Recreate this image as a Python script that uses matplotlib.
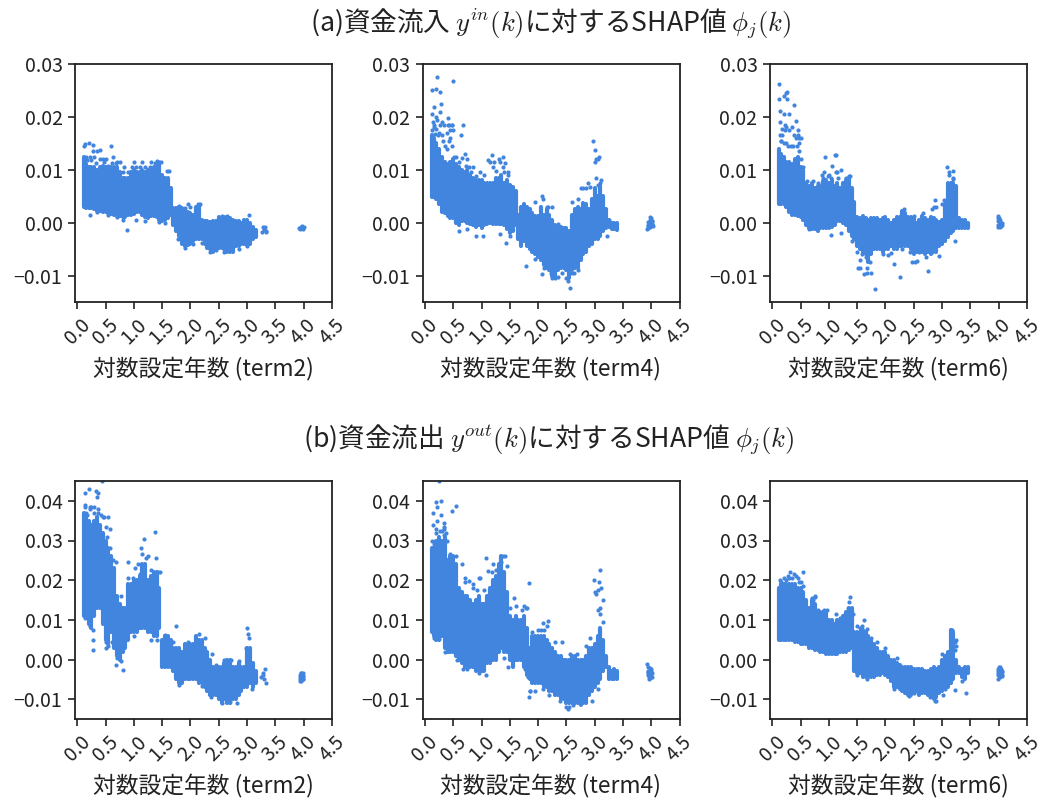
import matplotlib
matplotlib.use('Agg')
import matplotlib.pyplot as plt

plt.rcParams['font.family'] = ['Noto Sans CJK JP', 'DejaVu Sans']
plt.rcParams['mathtext.fontset'] = 'cm'

color = '#4285de'

#x positions where the dense part of each cloud was read off
#the dense part is drawn as lo-hi bands, single dots only for what stands out
band_x = [0.12, 0.15, 0.2, 0.25, 0.3, 0.35, 0.4, 0.45, 0.5, 0.55, 0.6, 0.65, 0.7, 0.75, 0.8, 0.85, 0.9, 0.95,
          1.0, 1.05, 1.1, 1.15, 1.2, 1.25, 1.3, 1.35, 1.4, 1.45, 1.5, 1.55, 1.6, 1.65, 1.7, 1.75, 1.8, 1.85, 1.9, 1.95,
          2.0, 2.05, 2.1, 2.15, 2.2, 2.25, 2.3, 2.35, 2.4, 2.45, 2.5, 2.55, 2.6, 2.65, 2.7, 2.75, 2.8, 2.85, 2.9, 2.95,
          3.0, 3.05, 3.1, 3.15, 3.2, 3.25, 3.3, 3.35, 3.4, 3.45]

#(a) inflow, term2
a1_lo = [.003, .0028, .0028, .0027, .0025, .0023, .0022, .002, .002, .0018, .0016, .0014, .0013, .0012, .001, .0011, .0015, .0015,
         .0017, .002, .002, .0015, .001, .0008, .0012, .0012, .001, .0005, .0003, .0005, .0008, .0015, -.0005, -.0015, -.0025, -.004, -.0045, -.0042,
         -.004, -.0035, -.003, -.003, -.003, -.004, -.0048, -.005, -.0055, -.005, -.0048, -.0048, -.005, -.0055, -.0055, -.0055, -.0045, -.0045, -.004, -.004,
         -.0042, -.004, -.003, -.0028]
a1_hi = [.0125, .011, .0105, .0105, .0105, .01, .0105, .0108, .0105, .01, .0105, .0105, .0105, .0095, .0085, .0085, .0085, .0095,
         .01, .0095, .0095, .01, .0095, .01, .01, .0105, .0108, .011, .009, .0085, .0085, .0065, .0028, .0028, .003, .0028, .0025, .002,
         .0018, .0015, .003, .003, .0005, .0003, .0003, .0002, .0003, .0003, .001, .0005, .001, .001, .0008, .0005, .0003, .0003, 0.0, .0005,
         .0005, 0.0, -.0008, -.0013]
a1_px = [.12, .14, .2, .27, .28, .35, .4, .6, .15, .22, .3, .45, .5, .63, .7, .75, .82, .88, 1.0, 1.15, 1.3, 1.4, 1.48, .22, 1.62,
         2.13, 2.17, 1.95, 3.03, 3.27, 3.29, 3.31, 3.33, 3.33, 3.28, 3.92, 3.94, 3.96, 3.98, 4.0, 3.97]
a1_py = [.0145, .0148, .015, .0147, .0135, .0135, .0138, .0145, .0125, .0125, .0125, .012, .012, .0125, .0115, .0115, .0105, -.0013, .0115, .0115, .0115, .0117, .0115, .0015, .0098,
         .0035, .0035, .0035, .0015, -.0018, -.0012, -.0009, -.0015, -.0018, -.0008, -.0011, -.0012, -.0008, -.0012, -.0009, -.0007]
a1_edge = [(.17, .0118), (.25, .0118), (.33, .0112), (.4, .012), (.48, .0115), (.55, .0108), (.62, .0112), (.68, .0112), (.8, .0095),
           (.9, .0095), (.97, .0105), (1.03, .0105), (1.1, .0105), (1.2, .0105), (1.28, .0105), (1.38, .0112), (1.45, .0115), (1.58, .0098),
           (.35, .002), (.55, .0015), (.7, .001), (.8, .0005), (1.04, .0005), (1.2, .0003), (1.45, .0002), (1.55, 0.0),
           (1.8, .0032), (1.9, .0028), (2.0, .003), (2.15, .0033), (1.78, -.003), (1.9, -.0048), (2.05, -.004), (2.2, -.0038),
           (2.35, -.0055), (2.45, -.0052), (2.6, -.0055), (2.85, -.005), (3.0, -.0045), (2.55, .0012), (2.65, .0013)]

#(a) inflow, term4
a2_lo = [.0048, .0048, .0045, .0035, .002, .0018, .0012, .0008, .0008, 0.0, -.0005, .0003, .0003, 0.0, -.0002, -.0005, -.0008, -.0005,
         -.001, -.0005, -.0003, 0.0, -.0002, -.0002, -.0003, -.0003, -.0005, -.0012, -.002, -.0015, -.0005, -.003, -.0045, -.0035, -.0045, -.005, -.0055, -.006,
         -.0065, -.007, -.008, -.0085, -.009, -.01, -.01, -.009, -.0085, -.0085, -.009, -.0105, -.009, -.0085, -.0085, -.007, -.006, -.0055, -.0045, -.004,
         -.003, -.003, -.0025, -.0015, -.001, -.0008, -.0012, -.0012, -.0013]
a2_hi = [.0165, .016, .015, .014, .0125, .0115, .011, .0115, .012, .011, .0105, .01, .0095, .01, .009, .0085, .008, .008,
         .008, .0075, .0075, .0075, .0075, .0085, .0085, .009, .0075, .008, .0072, .0068, .006, .0015, .003, .0035, .003, .0025, .0018, .0012,
         .0012, .003, .0015, .0025, .0015, .0005, -.0005, -.001, -.0008, -.001, -.001, -.0015, .0015, .0025, .003, .0025, .0038, .0035, .0025, .0045,
         .0065, .005, .007, .005, .0025, .0005, 0.0, 0.0, 0.0]
a2_px = [.12, .16, .2, .22, .27, .28, .5, .12, .15, .2, .26, .3, .33, .4, .42, .48, .5, .67, .63, .45, .38, .7, .75, .85, .97, 1.05, 1.12, 1.18, 1.22, 1.3, 1.37, 1.42, 1.38, 1.46,
         1.78, 2.07, 2.07, 2.17, 2.25, 2.3, 2.5, 2.56, 2.53, 2.63, 2.88, 2.97, 3.0, 3.02, 3.06, 3.08, 3.0, 3.02, 3.21, 3.26, 3.92, 3.95, 3.98, 4.0, 4.02, 3.97, 3.99, 4.01, 3.94]
a2_py = [.025, .0218, .0252, .0275, .0247, .0225, .0268, .0205, .018, .02, .021, .019, .0185, .0198, .0185, .0185, .0175, .0185, .0165, .016, .014, .013, .012, .0105, .0095, .009, .0118, .0128, .0115, .012, .0125, .0112, .0105, .009,
         -.0081, -.0098, .005, .003, -.0105, -.0105, -.0105, -.0123, -.011, -.0095, .0075, .0155, .0138, .012, .012, .0125, .0115, .0085, -.0025, .0005, -.0012, .0002, .001, .0005, -.0005, -.0008, .0008, -.0003, -.0005]
a2_edge = [(.13, .0175), (.14, .019), (.16, .0185), (.18, .0168), (.2, .0178), (.23, .0165), (.25, .017), (.22, .0195), (.27, .0185), (.3, .0165),
           (.32, .0155), (.35, .0145), (.38, .017), (.4, .0185), (.42, .0155), (.45, .0175), (.47, .0185), (.48, .0145), (.52, .0125), (.55, .0125),
           (.6, .0115), (.65, .0122), (.72, .0108), (.77, .0105), (.82, .0095), (.9, .0088), (1.15, .0115), (1.2, .0105), (1.25, .0098), (1.33, .0115),
           (1.4, .0095), (1.47, .0095), (.6, -.0015), (.75, -.0012), (.9, -.0025), (1.02, -.0025), (1.32, -.0022), (1.43, -.0038), (1.5, -.0025),
           (1.95, -.0068), (2.1, -.0085), (2.22, -.0095), (2.35, -.0103), (2.42, -.0095), (2.6, -.0095), (2.7, -.009), (2.6, .004), (2.7, .0045),
           (2.75, .0065), (2.8, .0065), (2.85, .0065), (2.92, .0068), (3.05, .0072), (3.1, .0075), (3.12, .008), (1.95, .004), (2.08, .0045),
           (2.15, .003), (2.25, .003), (2.35, -.0003), (3.94, -.001), (3.96, 0.0), (3.97, .0004), (3.98, -.0002), (4.0, 0.0), (4.01, .0003),
           (4.02, -.0002), (3.95, -.0006), (3.96, -.0003), (3.98, .0005), (4.03, -.0006), (4.02, .0004)]

#(a) inflow, term6
a3_lo = [.0035, .0035, .0035, .003, .002, .0015, .0015, .0012, .001, .0005, -.0005, -.001, -.0012, -.0012, -.0015, -.001, -.001, -.001,
         -.001, -.0008, -.0005, .0003, .0003, 0.0, -.0005, -.0015, -.0025, -.003, -.0045, -.005, -.0055, -.006, -.0075, -.006, -.005, -.005, -.005, -.0055,
         -.005, -.005, -.0045, -.005, -.005, -.0045, -.0045, -.0045, -.0045, -.005, -.006, -.0055, -.005, -.0055, -.006, -.0055, -.006, -.005, -.0055, -.0045,
         -.004, -.0035, -.0028, -.002, -.0015, -.001, -.001, -.001, -.001, -.001]
a3_hi = [.014, .013, .0125, .0115, .0115, .011, .012, .0125, .0105, .01, .0075, .007, .0075, .0065, .007, .007, .0078, .008,
         .0075, .008, .007, .0075, .0065, .0075, .008, .0085, .0065, .004, .001, .0008, .0012, .0008, .0005, .0008, .0008, .0008, .0005, .0008,
         .001, .0005, 0.0, .0005, .001, .001, .0022, .0018, .001, .001, .0008, 0.0, .0005, .0012, .0008, .0005, .001, .0008, .0005, .0002,
         .0005, .0035, .0075, .0075, .0075, .007, .0008, .0005, .0005, 0.0]
a3_px = [.12, .14, .2, .24, .26, .26, .2, .12, .17, .22, .3, .39, .42, .45, .48, .5, .35, .25, .15, .42, .47,
         .93, 1.1, 1.13, 1.15, .92, .88, 1.05, 1.0, 1.22, 1.35,
         1.52, 1.55, 1.58, 1.62, 1.65, 1.68, 1.75, 1.81, 2.05, 2.15, 2.25, 2.47, 2.52, 2.55, 2.75, 2.87, 2.95, 2.85, 3.08, 3.12, 3.19, 3.22, 3.2,
         3.98, 4.0, 4.03, 4.05, 3.99, 4.02, 4.04, 3.98]
a3_py = [.0262, .0212, .024, .0245, .0233, .0247, .0205, .0233, .0178, .0185, .0205, .0222, .0193, .0175, .016, .016, .018, .018, .0155, .016, .015,
         .0125, .0128, .0127, .0095, .0095, .009, .0108, .009, .01, .0088,
         -.0085, -.0085, -.006, -.0098, -.0065, -.0095, -.0095, -.0126, -.0062, -.0078, -.0102, -.0075, -.0075, -.0072, -.0092, .0042, -.0063, .003, .0105, .0095, .0098, -.0035, .0085,
         .0012, .0005, .0005, -.0005, -.0008, 0.0, -.0005, .0008]
a3_edge = [(.13, .019), (.14, .0165), (.16, .0155), (.18, .0165), (.2, .015), (.23, .0175), (.25, .015), (.28, .0145), (.3, .0175), (.33, .0145),
           (.36, .0145), (.38, .0165), (.43, .0145), (.45, .0165), (.47, .0135), (.5, .012), (.55, .0105), (.62, .0078), (.72, .0078), (.8, .0075),
           (.9, .0085), (.98, .0088), (1.03, .0085), (1.12, .0095), (1.17, .0085), (1.3, .0085), (1.38, .0088), (.65, -.0012), (1.03, -.0024),
           (1.22, -.002), (1.4, -.0035), (1.5, -.0055), (1.55, -.007), (1.68, -.0085), (1.72, -.0075), (1.95, -.006), (2.1, -.0058), (2.3, -.005),
           (2.43, -.0055), (2.6, -.0055), (2.72, -.0065), (2.82, -.0055), (2.33, .0025), (2.5, .0012), (2.67, .0018), (2.82, .0025), (2.9, .003),
           (3.0, .0035), (3.03, .0042), (3.12, .009), (3.2, .0082), (3.98, -.0004), (4.0, -.0006), (4.02, -.0008), (4.04, -.0006), (4.05, 0.0),
           (4.0, .0008), (3.99, .0003), (4.03, -.0002)]

#(b) outflow, term2
b1_lo = [.011, .011, .009, .008, .011, .013, .013, .009, .005, .004, .007, .003, .001, 0.0, .002, .003, .005, .007,
         .007, .007, .008, .008, .008, .007, .007, .006, .006, .008, -.002, -.002, -.002, -.002, -.003, -.005, -.006, -.006, -.005, -.005,
         -.005, -.005, -.005, -.006, -.006, -.007, -.008, -.009, -.009, -.009, -.01, -.011, -.01, -.011, -.011, -.01, -.01, -.009, -.008, -.007,
         -.007, -.006, -.007, -.006]
b1_hi = [.037, .036, .035, .034, .035, .036, .034, .032, .03, .028, .026, .023, .016, .014, .013, .013, .019, .019,
         .02, .02, .021, .024, .024, .02, .021, .022, .022, .018, .005, .006, .006, .005, .003, .003, .003, .002, .004, .004,
         .004, .004, .006, .005, .005, .003, .002, 0.0, -.002, -.002, -.002, -.002, -.001, 0.0, 0.0, -.002, -.002, -.001, -.002, -.002,
         .003, .003, -.001, -.003]
b1_px = [.14, .14, .21, .22, .33, .35, .37, .43, .3, .25, .37, .55, .58, .48, .2, .27, .28, .28, .5, .55,
         .69, .8, .9, 1.08, 1.12, 1.18, 1.15, 1.22, 1.37, 1.39, 1.25, 1.75,
         3.0, 3.02, 3.03, 2.98, 3.25, 3.28, 3.3, 3.32, 3.33, 3.28, 3.93, 3.95, 3.97, 3.99, 3.94, 3.98, 3.96, 3.96, 3.97]
b1_py = [.042, .039, .043, .038, .0425, .041, .042, .045, .0385, .0385, .037, .036, .033, .036, .0092, .0075, .005, .0025, .003, .0035,
         -.0015, -.0026, .0245, .024, .028, .0305, .0265, .0255, .0322, .0255, .026, .0085,
         .008, .0065, .0055, .003, -.0045, -.0035, -.005, -.0025, -.006, -.004, -.0045, -.0035, -.004, -.0035, -.0055, -.005, -.0033, -.0055, -.0042]
b1_edge = [(.13, .0385), (.15, .037), (.18, .0365), (.22, .0385), (.3, .037), (.36, .038), (.42, .0365), (.46, .036), (.5, .0335), (.52, .031),
           (.58, .028), (.63, .025), (.68, .0245), (.77, .016), (.9, .0205), (.98, .0205), (1.02, .023), (1.1, .0215), (1.3, .0225), (1.42, .022),
           (1.47, .022), (.14, .0105), (.23, .0085), (.5, .0045), (.62, .0045), (.7, .0005), (.77, -.0005), (1.0, .006), (1.3, .005), (1.4, .005),
           (1.55, .0062), (1.7, .0045), (1.95, .0045), (2.15, .0065), (2.25, .0055), (2.38, .0015), (2.45, -.0015), (2.6, 0.0), (2.72, 0.0),
           (2.85, -.0005), (1.8, -.0065), (2.2, -.0068), (2.37, -.0095), (2.55, -.011), (2.7, -.0108), (2.83, -.011), (3.08, -.0075),
           (3.93, -.004), (3.94, -.0048), (3.95, -.0043), (3.96, -.0038), (3.97, -.005), (3.98, -.0042), (3.99, -.0048), (3.95, -.0052), (3.99, -.0041)]

#(b) outflow, term4
b2_lo = [.007, .006, .005, .005, .006, .003, .002, .002, .002, .001, 0.0, -.001, -.002, -.002, -.002, -.002, -.003, -.003,
         -.003, -.003, -.001, -.001, 0.0, 0.0, .002, .003, .002, .002, 0.0, -.002, 0.0, 0.0, 0.0, -.002, -.004, -.005, -.006, -.006,
         -.006, -.006, -.007, -.007, -.008, -.008, -.009, -.009, -.01, -.01, -.011, -.011, -.011, -.011, -.011, -.0115, -.011, -.011, -.009, -.008,
         -.007, -.006, -.005, -.003, -.002, -.005, -.005, -.005, -.005]
b2_hi = [.028, .028, .03, .031, .03, .031, .025, .026, .026, .024, .018, .017, .016, .016, .015, .014, .015, .016,
         .014, .014, .016, .018, .02, .021, .024, .026, .022, .017, .011, .01, .011, .01, .01, .011, .008, .003, .006, .006,
         .006, .006, .006, .005, .004, .003, .002, .001, .001, 0.0, 0.0, 0.0, .001, .001, 0.0, 0.0, 0.0, .001, .003, .003,
         .004, .006, .008, .005, .001, -.002, -.003, -.0025, -.003]
b2_px = [.14, .14, .2, .21, .28, .34, .34, .28, .48, .55, .7, .25, .2, .34, .38, .85, .95, .98, 1.08, 1.12, 1.2, 1.3, 1.33, 1.38,
         1.58, 1.75, 1.8, 1.83, 2.08, 2.15, 2.18, 2.05, 1.83, 1.85, 2.5, 2.52, 2.55,
         2.98, 3.0, 3.02, 3.05, 3.08, 3.1, 3.12, 3.15, 3.05, 3.1, 3.14, 3.1,
         3.93, 3.95, 3.97, 3.99, 4.01, 3.94, 3.96, 3.98, 3.94, 4.0]
b2_py = [.037, .034, .0398, .0385, .04, .0345, .0335, .0365, .0375, .0388, .0205, .045, .032, .0315, .03, .019, .0205, .0205, .0255, .0222, .024, .0225, .024, .026,
         .0155, .0135, .013, .0192, .0092, .0085, .0098, .0075, -.0095, -.008, -.012, -.0125, -.012,
         .02, .017, .0165, .0175, .0195, .0225, .018, .015, .0125, .0115, .0095, .013,
         -.0012, -.0018, -.0022, -.0028, -.0035, -.004, -.005, -.0045, -.003, -.0025]
b2_edge = [(.13, .03), (.16, .029), (.2, .033), (.22, .035), (.26, .0325), (.3, .0325), (.33, .033), (.37, .032), (.45, .0265), (.55, .026),
           (.65, .024), (.7, .0195), (.77, .0198), (.85, .018), (.92, .0175), (1.05, .0175), (1.18, .022), (1.25, .0225), (1.35, .0245), (1.42, .026),
           (1.45, .0235), (1.5, .013), (1.6, .0135), (1.72, .0125), (1.78, .013), (1.9, .007), (2.0, .0075), (2.1, .0075), (2.3, .0045), (2.42, .0045),
           (2.57, .0015), (2.68, .0015), (2.85, .0035), (2.92, .0055), (.15, .0055), (.25, .0052), (.35, .002), (.4, .0025), (.57, 0.0), (.67, -.0025),
           (.75, -.0025), (.95, -.0035), (1.07, -.0038), (1.4, .0005), (1.47, -.002), (1.77, -.0025), (1.82, -.0045), (1.85, -.008), (1.95, -.008),
           (2.08, -.0075), (2.2, -.009), (2.38, -.0105), (2.62, -.0115), (2.95, -.0105), (3.05, -.0075), (3.95, -.0032), (3.97, -.0038), (3.99, -.0042),
           (4.0, -.0033), (3.96, -.0044), (3.98, -.003), (4.01, -.0045), (3.94, -.0035), (3.97, -.0047)]

#(b) outflow, term6
b3_lo = [.005, .005, .005, .005, .005, .005, .0045, .0045, .004, .004, .004, .003, .0028, .0025, .0025, .002, .0018, .0015,
         .0015, .0015, .0015, .0015, .0018, .002, .002, .0025, .003, -.003, -.0035, -.0035, -.0045, -.0045, -.0045, -.0045, -.0045, -.004, -.004, -.0035,
         -.004, -.0045, -.0055, -.007, -.007, -.0075, -.008, -.0085, -.009, -.009, -.0085, -.008, -.009, -.0085, -.0085, -.009, -.009, -.01, -.0095, -.0085,
         -.008, -.0075, -.007, -.006, -.005, -.0035, -.0035, -.0045, -.005, -.0035]
b3_hi = [.018, .019, .019, .019, .019, .019, .019, .018, .018, .017, .015, .013, .015, .014, .012, .012, .012, .012,
         .01, .01, .009, .01, .01, .011, .012, .013, .013, .007, .007, .007, .0075, .007, .006, .005, .004, .003, .002, .002,
         .002, .001, 0.0, 0.0, -.001, -.0015, -.002, -.002, -.002, -.002, -.0025, -.0025, -.0025, -.0025, -.003, -.003, -.0025, -.002, -.0025, -.002,
         0.0, .001, .002, .0075, .007, 0.0, -.002, -.0025, -.002, -.002]
b3_px = [.14, .2, .27, .32, .38, .42, .55, .47, .35, .75, .72, .92, .97, 1.12, 1.35, 1.38, 1.62, 1.55,
         2.9, 2.87, 2.82, 3.02, 3.15, 3.18, 3.22, 3.22, 3.42,
         3.98, 4.0, 4.02, 4.04, 4.06, 3.98, 4.02, 4.05, 3.99, 4.03, 4.0]
b3_py = [.02, .0205, .021, .022, .0215, .021, .022, .0195, .0205, .016, .015, .0125, .0125, .0115, .0145, .0158, .01, .008,
         -.0105, -.0095, -.0085, -.009, .0075, .0075, .0045, .0025, -.0085,
         -.0025, -.002, -.0018, -.0025, -.0032, -.005, -.0045, -.0042, -.0035, -.003, -.004]
b3_edge = [(.15, .0195), (.25, .02), (.3, .0205), (.45, .0205), (.5, .0195), (.55, .0185), (.7, .0155), (.75, .0158), (.8, .0125), (.9, .012),
           (1.2, .0105), (1.28, .0115), (1.33, .013), (1.42, .0115), (1.5, .0085), (1.58, .0085), (1.68, .0078), (1.75, .0055), (1.85, .0045),
           (2.0, .003), (2.2, .0005), (3.15, .0068), (3.25, .0048), (3.25, .0035), (3.0, .0015), (3.08, .0015), (1.5, -.004), (1.68, -.005),
           (2.15, -.0075), (2.42, -.0092), (2.5, -.0085), (2.78, -.0095), (2.88, -.0105), (3.05, -.0075), (3.22, -.0078), (3.35, -.0055),
           (3.99, -.0028), (4.0, -.004), (4.01, -.0025), (4.03, -.0038), (4.05, -.0028), (4.06, -.0038), (3.98, -.004), (4.02, -.0032)]

x_ticks = [0.0, 0.5, 1.0, 1.5, 2.0, 2.5, 3.0, 3.5, 4.0, 4.5]
x_labels = ['0.0', '0.5', '1.0', '1.5', '2.0', '2.5', '3.0', '3.5', '4.0', '4.5']
a_ticks = [-0.01, 0.00, 0.01, 0.02, 0.03]
b_ticks = [-0.01, 0.00, 0.01, 0.02, 0.03, 0.04]
terms = ['term2', 'term4', 'term6']

W, H = 1043, 802
fig = plt.figure(figsize=(W / 100, H / 100), dpi=100)

#axes boxes in pixels
lefts = [75, 422.5, 770]
axw = 257
row_a = (64, 302)
row_b = (481, 719)


def make_panel(left, row, x0, lo, hi, px, py, edge, ylim, yticks, term):
    ax = fig.add_axes([left / W, 1 - row[1] / H, axw / W, (row[1] - row[0]) / H])
    ax.vlines(band_x[:len(lo)], lo, hi, color=color, lw=3.0, capstyle='round')
    ax.scatter(px + [p[0] for p in edge], py + [p[1] for p in edge], s=9, color=color, linewidths=0)
    ax.set_xlim(x0, 4.5)
    ax.set_ylim(*ylim)
    ax.set_xticks(x_ticks)
    ax.set_xticklabels(x_labels, rotation=45, fontsize=14)
    ax.set_yticks(yticks)
    ax.set_yticklabels(['%.2f' % t if t >= 0 else '\u2212%.2f' % abs(t) for t in yticks], fontsize=14)
    ax.tick_params(width=1.2, length=5, pad=4, color='#222222', labelcolor='#222222')
    ax.set_xlabel('対数設定年数 (%s)' % term, fontsize=16.4, color='#222222', labelpad=6)
    for s in ax.spines.values():
        s.set_linewidth(1.3)
        s.set_color('#222222')
    return ax


make_panel(lefts[0], row_a, -0.04, a1_lo, a1_hi, a1_px, a1_py, a1_edge, (-0.015, 0.03), a_ticks, terms[0])
make_panel(lefts[1], row_a, -0.045, a2_lo, a2_hi, a2_px, a2_py, a2_edge, (-0.015, 0.03), a_ticks, terms[1])
make_panel(lefts[2], row_a, -0.04, a3_lo, a3_hi, a3_px, a3_py, a3_edge, (-0.015, 0.03), a_ticks, terms[2])
make_panel(lefts[0], row_b, -0.04, b1_lo, b1_hi, b1_px, b1_py, b1_edge, (-0.015, 0.045), b_ticks, terms[0])
make_panel(lefts[1], row_b, -0.045, b2_lo, b2_hi, b2_px, b2_py, b2_edge, (-0.015, 0.045), b_ticks, terms[1])
make_panel(lefts[2], row_b, -0.04, b3_lo, b3_hi, b3_px, b3_py, b3_edge, (-0.015, 0.045), b_ticks, terms[2])

fig.text(550 / W, 1 - 24 / H, r'(a)資金流入 $y^{in}(k)$に対するSHAP値 $\phi_j(k)$',
         ha='center', va='center', fontsize=19.2, color='#222222')
fig.text(549 / W, 1 - 440 / H, r'(b)資金流出 $y^{out}(k)$に対するSHAP値 $\phi_j(k)$',
         ha='center', va='center', fontsize=19.2, color='#222222')

fig.savefig('out.png', dpi=100)
